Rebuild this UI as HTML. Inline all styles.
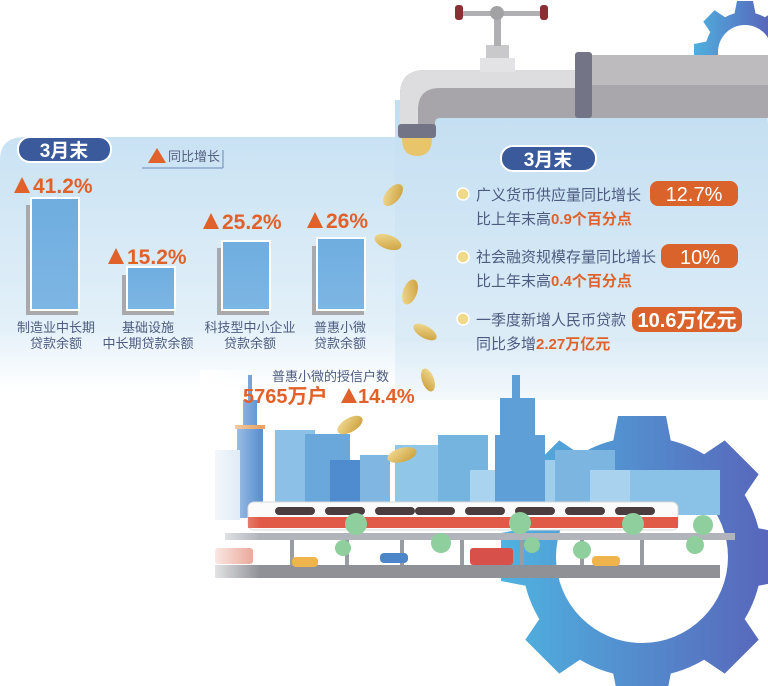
<!DOCTYPE html>
<html><head><meta charset="utf-8"><style>
html,body{margin:0;padding:0;background:#fff;}
svg{display:block;}
text{font-family:"Liberation Sans","Noto Sans CJK SC",sans-serif;}
</style></head><body>
<svg width="768" height="686" viewBox="0 0 768 686" xmlns="http://www.w3.org/2000/svg">
<defs>
<linearGradient id="panelL" x1="0" y1="0" x2="0" y2="1">
<stop offset="0" stop-color="#c9e2f3"/><stop offset="0.75" stop-color="#e3f0f9"/><stop offset="1" stop-color="#ffffff"/></linearGradient>
<linearGradient id="panelR" x1="0" y1="0" x2="0" y2="1">
<stop offset="0" stop-color="#c3def1"/><stop offset="0.8" stop-color="#dcecf7"/><stop offset="1" stop-color="#f4f9fc"/></linearGradient>
<linearGradient id="gear" x1="0" y1="0" x2="1" y2="0">
<stop offset="0" stop-color="#4fb3e0"/><stop offset="1" stop-color="#5866bb"/></linearGradient>
<linearGradient id="bar" x1="0" y1="0" x2="0" y2="1"><stop offset="0" stop-color="#6fade0"/><stop offset="1" stop-color="#7db6e4"/></linearGradient>
<linearGradient id="coin" x1="0" y1="0" x2="1" y2="1"><stop offset="0" stop-color="#f3df9a"/><stop offset="1" stop-color="#c99b35"/></linearGradient>
<linearGradient id="fadeL" x1="0" y1="0" x2="1" y2="0"><stop offset="0" stop-color="#fff" stop-opacity="1"/><stop offset="1" stop-color="#fff" stop-opacity="0"/></linearGradient>
<mask id="bigGear" maskUnits="userSpaceOnUse" x="0" y="0" width="768" height="686">
<g transform="translate(642,557)" fill="#fff">
<circle r="120"/>
<g id="t"><path d="M-30 -110 L-24 -141 L24 -141 L30 -110Z"/></g>
<use href="#t" transform="rotate(45)"/><use href="#t" transform="rotate(90)"/><use href="#t" transform="rotate(135)"/>
<use href="#t" transform="rotate(180)"/><use href="#t" transform="rotate(225)"/><use href="#t" transform="rotate(270)"/><use href="#t" transform="rotate(315)"/>
<circle r="86" fill="#000"/>
</g>
</mask>
<mask id="smGear" maskUnits="userSpaceOnUse" x="600" y="0" width="168" height="120">
<g transform="translate(745,52)" fill="#fff">
<circle r="40"/>
<g id="t2"><path d="M-11 -36 L-8 -51 L8 -51 L11 -36Z"/></g>
<use href="#t2" transform="rotate(45)"/><use href="#t2" transform="rotate(90)"/><use href="#t2" transform="rotate(135)"/>
<use href="#t2" transform="rotate(180)"/><use href="#t2" transform="rotate(225)"/><use href="#t2" transform="rotate(270)"/><use href="#t2" transform="rotate(315)"/>
<circle r="27" fill="#000"/>
</g>
</mask>
</defs>

<!-- panels -->
<path d="M0 160 Q0 137 25 137 L440 137 L440 390 L0 390 Z" fill="url(#panelL)"/>
<path d="M395 100 L745 100 Q768 100 768 125 L768 400 L395 400 Z" fill="url(#panelR)"/>

<!-- big gear -->
<rect x="500" y="410" width="268" height="276" fill="url(#gear)" mask="url(#bigGear)"/>

<!-- small gear -->
<rect x="690" y="0" width="78" height="110" fill="url(#gear)" mask="url(#smGear)"/>
<path d="M718 58 L768 58 L768 79 Q745 80 745 80 A27 27 0 0 1 718 58Z" fill="#a8a6aa"/>

<!-- faucet -->
<rect x="590" y="55" width="178" height="63" fill="#a9a7ab"/>
<rect x="590" y="55" width="178" height="30" fill="#bdbbbe"/>
<path d="M410 70 L590 70 L590 118 L440 118 Q435 118 435 123 L435 128 L400 128 L400 95 Q400 70 425 70Z" fill="#a7a5a9"/>
<path d="M410 70 L590 70 L590 88 L440 88 Q418 88 418 110 L418 128 L400 128 L400 95 Q400 70 425 70Z" fill="#dddcde"/>
<rect x="575" y="52" width="17" height="66" rx="3" fill="#737587"/>
<rect x="480" y="58" width="35" height="14" fill="#e3e2e4"/>
<rect x="486" y="45" width="23" height="13" fill="#c9c8cb"/>
<rect x="494" y="10" width="7" height="36" fill="#b0afb2"/>
<rect x="460" y="11" width="82" height="5" fill="#b0afb2"/>
<circle cx="497" cy="13" r="7" fill="#a2a1a4"/>
<rect x="455" y="5" width="8" height="15" rx="3" fill="#8c2f33"/>
<rect x="540" y="5" width="8" height="15" rx="3" fill="#8c2f33"/>
<rect x="398" y="124" width="38" height="14" rx="3" fill="#737587"/>
<path d="M402 138 L432 138 Q432 156 417 156 Q402 156 402 138Z" fill="#e8c46a"/>

<!-- left header -->
<rect x="18" y="137" width="93" height="25" rx="12" fill="#3a5a9c" stroke="#fff" stroke-width="2"/>
<text x="64" y="157" font-size="19" font-weight="bold" fill="#fff" text-anchor="middle">3月末</text>
<path d="M148 163 L157 148 L166 163Z" fill="#e0622a"/>
<text x="168" y="161" font-size="13" fill="#555f80">同比增长</text>
<line x1="142" y1="168" x2="223" y2="168" stroke="#6a88b8" stroke-width="1"/>
<line x1="223" y1="150" x2="223" y2="168" stroke="#6a88b8" stroke-width="1"/>

<!-- bars -->
<g font-size="21" font-weight="bold" fill="#e0622a">
<path d="M14 193 L22 177 L30 193Z"/><text x="33" y="193">41.2%</text>
<path d="M108 264 L116 248 L124 264Z"/><text x="127" y="264">15.2%</text>
<path d="M203 229 L211 213 L219 229Z"/><text x="222" y="229">25.2%</text>
<path d="M307 228 L315 212 L323 228Z"/><text x="326" y="228">26%</text>
</g>
<g fill="#a9a9ab">
<rect x="26" y="205" width="52" height="110"/><rect x="122" y="275" width="52" height="40"/>
<rect x="217" y="248" width="52" height="67"/><rect x="312" y="246" width="52" height="69"/>
</g>
<g fill="url(#bar)" stroke="#fff" stroke-width="2">
<rect x="31" y="198" width="48" height="112"/><rect x="127" y="267" width="48" height="43"/>
<rect x="222" y="241" width="48" height="69"/><rect x="317" y="238" width="48" height="72"/>
</g>
<g font-size="13" fill="#4d5b80" text-anchor="middle">
<text x="56" y="332">制造业中长期</text><text x="56" y="348">贷款余额</text>
<text x="148" y="332">基础设施</text><text x="148" y="348">中长期贷款余额</text>
<text x="250" y="332">科技型中小企业</text><text x="250" y="348">贷款余额</text>
<text x="340" y="332">普惠小微</text><text x="340" y="348">贷款余额</text>
</g>

<!-- right header -->
<rect x="501" y="146" width="95" height="25" rx="12" fill="#3a5a9c" stroke="#fff" stroke-width="2"/>
<text x="548" y="166" font-size="19" font-weight="bold" fill="#fff" text-anchor="middle">3月末</text>
<g fill="#f1d98a" stroke="#fff" stroke-width="1.5">
<circle cx="463" cy="194" r="6"/><circle cx="463" cy="257" r="6"/><circle cx="463" cy="319" r="6"/>
</g>
<g font-size="15" fill="#4d5b80">
<text x="476" y="200">广义货币供应量同比增长</text>
<text x="476" y="224">比上年末高<tspan fill="#e0622a" font-weight="bold">0.9个百分点</tspan></text>
<text x="476" y="262">社会融资规模存量同比增长</text>
<text x="476" y="286">比上年末高<tspan fill="#e0622a" font-weight="bold">0.4个百分点</tspan></text>
<text x="476" y="325">一季度新增人民币贷款</text>
<text x="476" y="349">同比多增<tspan fill="#e0622a" font-weight="bold">2.27万亿元</tspan></text>
</g>
<g fill="#d9632b">
<rect x="650" y="181" width="88" height="25" rx="8"/><rect x="661" y="244" width="77" height="24" rx="8"/><rect x="632" y="307" width="110" height="25" rx="8"/>
</g>
<g font-size="20" fill="#fff" text-anchor="middle">
<text x="694" y="201">12.7%</text><text x="700" y="264">10%</text><text x="687" y="327" font-weight="bold">10.6万亿元</text>
</g>

<!-- city -->
<g>
<rect x="275" y="430" width="40" height="80" fill="#8dc0e6"/>
<rect x="305" y="434" width="45" height="80" fill="#6aa7da"/>
<rect x="330" y="460" width="40" height="60" fill="#4f8bcf"/>
<rect x="360" y="455" width="30" height="60" fill="#7fb6e2"/>
<rect x="395" y="445" width="45" height="70" fill="#90c6e8"/>
<rect x="438" y="435" width="50" height="80" fill="#76b4e0"/>
<rect x="470" y="470" width="40" height="45" fill="#a9d3ee"/>
<rect x="495" y="435" width="50" height="80" fill="#5f9fd8"/>
<rect x="500" y="398" width="35" height="40" fill="#5f9fd8"/>
<rect x="512" y="375" width="8" height="25" fill="#5f9fd8"/>
<rect x="545" y="460" width="45" height="55" fill="#9fcdec"/>
<rect x="555" y="450" width="60" height="65" fill="#7cb5e0"/>
<rect x="590" y="470" width="60" height="45" fill="#a8d2ee"/>
<rect x="630" y="470" width="90" height="45" fill="#8ac1e6"/>
<rect x="237" y="428" width="26" height="90" fill="#5c92d2"/>
<rect x="243" y="400" width="14" height="30" fill="#5c92d2"/>
<rect x="248" y="375" width="4" height="28" fill="#5c92d2"/>
<rect x="235" y="425" width="30" height="4" fill="#e9a464"/>
<rect x="215" y="450" width="25" height="70" fill="#cfe1f1"/>
</g>
<!-- track & train -->
<rect x="248" y="502" width="430" height="28" rx="6" fill="#fbfbfb" stroke="#d9d9d9"/>
<rect x="248" y="517" width="430" height="11" fill="#e05a47"/>
<g fill="#4a3d40">
<rect x="275" y="507" width="40" height="8" rx="4"/><rect x="325" y="507" width="40" height="8" rx="4"/>
<rect x="375" y="507" width="40" height="8" rx="4"/><rect x="415" y="507" width="40" height="8" rx="4"/>
<rect x="465" y="507" width="40" height="8" rx="4"/><rect x="515" y="507" width="40" height="8" rx="4"/>
<rect x="565" y="507" width="40" height="8" rx="4"/><rect x="615" y="507" width="40" height="8" rx="4"/>
</g>
<rect x="225" y="533" width="510" height="7" fill="#b2b4bb"/>
<g fill="#9a9ca3">
<rect x="290" y="540" width="4" height="25"/><rect x="345" y="540" width="4" height="25"/><rect x="400" y="540" width="4" height="25"/>
<rect x="460" y="540" width="4" height="25"/><rect x="520" y="540" width="4" height="25"/><rect x="580" y="540" width="4" height="25"/><rect x="640" y="540" width="4" height="25"/>
</g>
<rect x="215" y="565" width="505" height="13" fill="#8f9197"/>
<g fill="#8fcf9e">
<circle cx="356" cy="524" r="11"/><circle cx="343" cy="548" r="8"/><circle cx="441" cy="543" r="10"/>
<circle cx="520" cy="523" r="11"/><circle cx="532" cy="545" r="8"/><circle cx="582" cy="550" r="9"/>
<circle cx="633" cy="524" r="11"/><circle cx="695" cy="545" r="9"/><circle cx="703" cy="525" r="10"/>
</g>
<rect x="470" y="548" width="43" height="17" rx="3" fill="#d8504a"/>
<rect x="215" y="548" width="38" height="16" rx="3" fill="#e0755e" opacity="0.7"/>
<rect x="292" y="557" width="26" height="10" rx="4" fill="#f0b44c"/>
<rect x="380" y="553" width="28" height="10" rx="4" fill="#4d86c8"/>
<rect x="592" y="556" width="28" height="10" rx="4" fill="#f0b44c"/>
<rect x="200" y="370" width="60" height="220" fill="url(#fadeL)"/>

<!-- coins -->
<g fill="url(#coin)">
<ellipse cx="393" cy="195" rx="13" ry="7" transform="rotate(-50 393 195)"/>
<ellipse cx="388" cy="242" rx="14" ry="7" transform="rotate(20 388 242)"/>
<ellipse cx="410" cy="292" rx="13" ry="7" transform="rotate(-70 410 292)"/>
<ellipse cx="425" cy="332" rx="13" ry="6" transform="rotate(30 425 332)"/>
<ellipse cx="428" cy="380" rx="12" ry="6" transform="rotate(70 428 380)"/>
<ellipse cx="350" cy="425" rx="14" ry="7" transform="rotate(-30 350 425)"/>
<ellipse cx="402" cy="455" rx="15" ry="7" transform="rotate(-15 402 455)"/>
</g>

<!-- micro text -->
<text x="272" y="381" font-size="13" fill="#4d5b80">普惠小微的授信户数</text>
<text x="243" y="403" font-size="20" font-weight="bold" fill="#e0622a">5765万户</text>
<path d="M341 403 L349 388 L357 403Z" fill="#e0622a"/>
<text x="358" y="403" font-size="20" font-weight="bold" fill="#e0622a">14.4%</text>
</svg>
</body></html>
